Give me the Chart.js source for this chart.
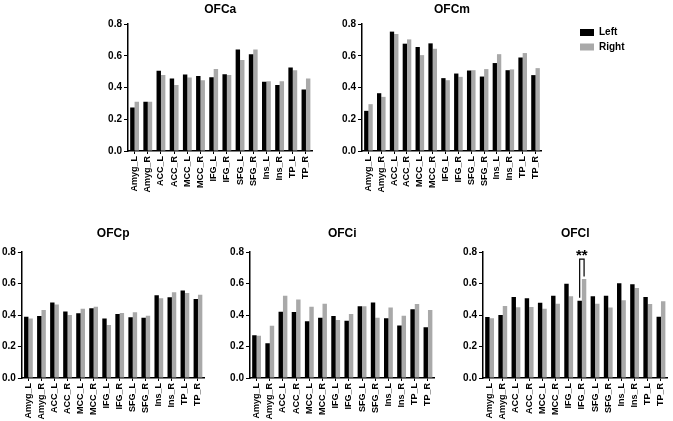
<!DOCTYPE html>
<html>
<head>
<meta charset="utf-8">
<script src="https://cdn.jsdelivr.net/npm/chart.js@4.4.1/dist/chart.umd.min.js"></script>
<style>
  body { margin: 0; background: #fff; width: 673px; height: 421px; overflow: hidden; position: relative; }
  canvas { position: absolute; }
</style>
</head>
<body>
<canvas id="ofca"></canvas>
<canvas id="ofcm"></canvas>
<canvas id="ofcp"></canvas>
<canvas id="ofci"></canvas>
<canvas id="ofcl"></canvas>
<script>
const regions = ["Amyg_L", "Amyg_R", "ACC_L", "ACC_R", "MCC_L", "MCC_R", "IFG_L", "IFG_R",
  "SFG_L", "SFG_R", "Ins_L", "Ins_R", "TP_L", "TP_R"];
const yTicks = [0, 0.2, 0.4, 0.6, 0.8];

const ofcaLeft  = [0.274, 0.31, 0.505, 0.457, 0.482, 0.472, 0.465, 0.484, 0.64, 0.61, 0.436, 0.415, 0.526, 0.387];
const ofcaRight = [0.31, 0.31, 0.478, 0.415, 0.463, 0.446, 0.516, 0.478, 0.573, 0.64, 0.44, 0.44, 0.509, 0.457];

const ofcmLeft  = [0.253, 0.364, 0.752, 0.676, 0.655, 0.678, 0.459, 0.488, 0.507, 0.469, 0.554, 0.509, 0.589, 0.478];
const ofcmRight = [0.295, 0.341, 0.737, 0.703, 0.604, 0.644, 0.446, 0.467, 0.509, 0.516, 0.61, 0.514, 0.617, 0.522];

const ofcpLeft  = [0.389, 0.394, 0.479, 0.423, 0.411, 0.443, 0.377, 0.406, 0.385, 0.383, 0.526, 0.513, 0.555, 0.502];
const ofcpRight = [0.377, 0.432, 0.466, 0.4, 0.44, 0.453, 0.336, 0.413, 0.417, 0.396, 0.506, 0.545, 0.54, 0.528];

const ofciLeft  = [0.272, 0.221, 0.421, 0.419, 0.36, 0.383, 0.394, 0.364, 0.455, 0.479, 0.379, 0.334, 0.436, 0.323];
const ofciRight = [0.268, 0.332, 0.523, 0.498, 0.453, 0.472, 0.368, 0.406, 0.455, 0.383, 0.447, 0.396, 0.47, 0.432];

const ofclLeft  = [0.387, 0.4, 0.515, 0.506, 0.477, 0.523, 0.598, 0.491, 0.519, 0.523, 0.602, 0.596, 0.515, 0.389];
const ofclRight = [0.379, 0.457, 0.449, 0.451, 0.44, 0.472, 0.519, 0.628, 0.472, 0.447, 0.494, 0.572, 0.47, 0.487];

// significance marker in OFCl (IFG_R, Left vs Right)
const sigIndex = 7;
const sigLabel = "**";

Chart.defaults.font.family = "'Liberation Sans', Arial, sans-serif";
Chart.defaults.font.weight = "bold";
Chart.defaults.color = "#000";

const Y_W = 40;

const sigBracket = {
  id: "sigBracket",
  afterDatasetsDraw(chart) {
    const y = chart.scales.y;
    const l = chart.getDatasetMeta(0).data[sigIndex];
    const r = chart.getDatasetMeta(1).data[sigIndex];
    const top = y.getPixelForValue(0.755);
    const ctx = chart.ctx;
    ctx.save();
    ctx.strokeStyle = "#000";
    ctx.lineWidth = 1.2;
    ctx.beginPath();
    ctx.moveTo(l.x, y.getPixelForValue(0.51));
    ctx.lineTo(l.x, top);
    ctx.lineTo(r.x, top);
    ctx.lineTo(r.x, y.getPixelForValue(0.645));
    ctx.stroke();
    ctx.fillStyle = "#000";
    ctx.font = "bold 15px 'Liberation Sans', Arial, sans-serif";
    ctx.textAlign = "center";
    ctx.textBaseline = "alphabetic";
    ctx.fillText(sigLabel, (l.x + r.x) / 2, top + 1);
    ctx.restore();
  }
};

function makePanel(id, title, left, right, plot, extra) {
  const canvas = document.getElementById(id);
  const cLeft = Math.floor(left - Y_W);
  const padLeft = left - Y_W - cLeft;
  const width = extra.width || Math.ceil(right - cLeft + 3);
  const padRight = extra.legend ? 30 : width - (right - cLeft);
  canvas.width = width;
  canvas.height = plot.height;
  canvas.style.left = cLeft + "px";
  canvas.style.top = plot.top + "px";

  // put the legend next to the plot at the spot it has in the figure
  const legendPlace = {
    id: "legendPlace",
    afterLayout(chart) {
      const lg = chart.legend;
      if (!extra.legend || !lg) return;
      const w = lg.width, h = lg.height;
      lg.left = extra.legendX - cLeft - 4.5;
      lg.right = lg.left + w;
      lg.top = extra.legendY - plot.top;
      lg.bottom = lg.top + h;
    }
  };

  new Chart(canvas, {
    type: "bar",
    data: {
      labels: regions,
      datasets: [
        { label: "Left", data: extra.left, backgroundColor: "#000000", borderWidth: 0 },
        { label: "Right", data: extra.right, backgroundColor: "#a9a9a9", borderWidth: 0 },
      ],
    },
    options: {
      responsive: false,
      animation: false,
      devicePixelRatio: 1,
      layout: { padding: { left: padLeft, right: padRight, top: 0, bottom: 0 } },
      datasets: { bar: { categoryPercentage: 0.67, barPercentage: 1.0 } },
      plugins: {
        legend: extra.legend
          ? {
              display: true,
              position: "right",
              align: "start",
              labels: {
                boxWidth: 14,
                boxHeight: 7,
                padding: 4.5,
                font: { size: 10, weight: "bold" },
                color: "#000",
              },
            }
          : { display: false },
        tooltip: { enabled: false },
        title: {
          display: true,
          text: title,
          fullSize: false,
          color: "#000",
          font: { size: 12, weight: "bold" },
          padding: plot.titlePad,
        },
      },
      scales: {
        x: {
          grid: { drawOnChartArea: false, drawTicks: true, tickLength: 3, offset: false, color: "#000", lineWidth: 1 },
          border: { color: "#000", width: 1.5 },
          ticks: { autoSkip: false, minRotation: 90, maxRotation: 90, padding: 2, font: { size: 9, weight: "bold" }, color: "#000" },
          afterFit: (s) => { s.height = plot.height - plot.zeroY + plot.top; },
        },
        y: {
          min: 0,
          max: 0.8,
          afterBuildTicks: (s) => { s.ticks = yTicks.map((v) => ({ value: v })); },
          grid: { drawOnChartArea: false, drawTicks: true, tickLength: 4, color: "#000", lineWidth: 1 },
          border: { color: "#000", width: 1.5 },
          ticks: { padding: 2, font: { size: 10, weight: "bold" }, color: "#000", callback: (v) => Number(v).toFixed(1) },
          afterFit: (s) => { s.width = Y_W; },
        },
      },
    },
    plugins: [legendPlace].concat(extra.plugins || []),
  });
}

const topRow = { top: 0, height: 206, zeroY: 151, titlePad: { top: 2, bottom: 7.6 } };
const bottomRow = { top: 218, height: 203, zeroY: 378, titlePad: { top: 8.3, bottom: 11.3 } };

makePanel("ofca", "OFCa", 128, 316, topRow, { left: ofcaLeft, right: ofcaRight });
makePanel("ofcm", "OFCm", 362, 551.7, topRow, { left: ofcmLeft, right: ofcmRight, legend: true, width: 309, legendX: 580, legendY: 23 });
makePanel("ofcp", "OFCp", 21.9, 207.4, bottomRow, { left: ofcpLeft, right: ofcpRight });
makePanel("ofci", "OFCi", 250, 437.3, bottomRow, { left: ofciLeft, right: ofciRight });
makePanel("ofcl", "OFCl", 483, 671, bottomRow, { left: ofclLeft, right: ofclRight, plugins: [sigBracket] });
</script>
</body>
</html>
